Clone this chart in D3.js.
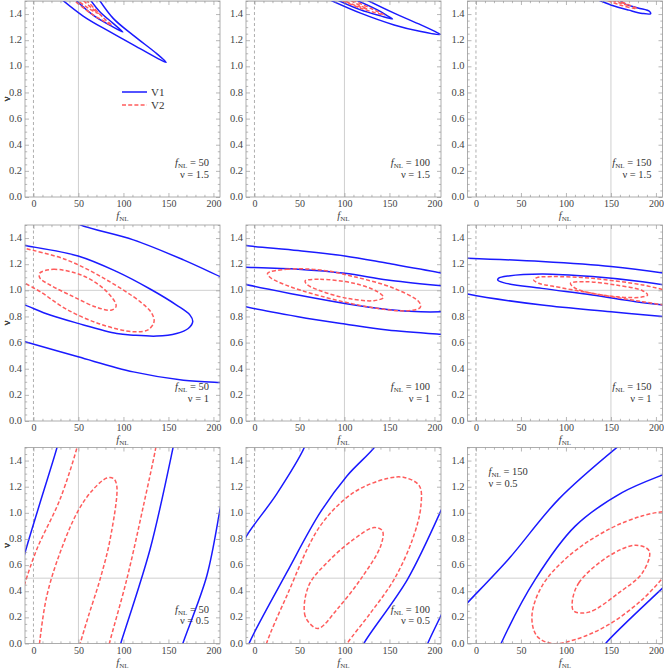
<!DOCTYPE html>
<html><head><meta charset="utf-8">
<script src="https://cdn.jsdelivr.net/npm/d3@7"></script>
<style>body{margin:0;background:#fff} svg{display:block} svg text{font-family:'Liberation Serif','Times New Roman',serif}</style>
</head><body><svg id="c" width="664" height="670"></svg>
<script>
// ---------- data ----------
const fnlValues = [50, 100, 150];           // columns
const nuValues  = [1.5, 1, 0.5];            // rows
const xTickValues = [0, 50, 100, 150, 200];
const yTickValues = [0, 0.2, 0.4, 0.6, 0.8, 1.0, 1.2, 1.4];
const seriesNames = ["V1", "V2"];

// contour points [fNL, nu]
// row 0 : nu = 1.5
const r0c0_V1_a = [[30,1.52],[55.6,1.383],[85.2,1.263],[118.5,1.135],[140.7,1.051],[147.4,1.031],[137,1.097],[111,1.237],[88.9,1.365],[72,1.52]];
const r0c0_V1_b = [[45,1.52],[66.7,1.39],[85.2,1.314],[99.3,1.263],[88.9,1.327],[74,1.416],[62,1.52]];
const r0c0_V2_a = [[42,1.52],[65,1.40],[80,1.34],[87,1.314],[78,1.37],[57,1.52]];
const r0c0_V2_b = [[46,1.52],[62,1.44],[72,1.405],[64,1.45],[53,1.52]];

const r0c1_V1_a = [[80,1.52],[117.9,1.407],[155.2,1.317],[185,1.266],[206.5,1.243],[203,1.258],[185,1.317],[155.2,1.407],[121,1.52]];
const r0c1_V1_b = [[88,1.52],[117.9,1.432],[140.3,1.386],[153.4,1.363],[147.8,1.386],[136.6,1.432],[108.6,1.52]];
const r0c1_V2_a = [[91.8,1.52],[118,1.445],[144,1.394],[136.6,1.42],[104.9,1.52]];
const r0c1_V2_b = [[95.5,1.52],[110.4,1.47],[125.4,1.44],[118,1.463],[103,1.52]];

const r0c2_V1_a = [[132,1.52],[150,1.47],[170,1.43],[185,1.405],[194,1.402],[193,1.42],[180,1.447],[165,1.48],[158,1.52]];
const r0c2_V2_a = [[140,1.52],[160,1.47],[175,1.445],[179,1.442],[170,1.47],[152,1.52]];
const r0c2_V2_b = [[145,1.52],[160,1.485],[168,1.47],[160,1.495],[150,1.52]];

// row 1 : nu = 1
const r1c0_V1_a = [[-14,1.35],[-9.3,1.343],[49.6,1.263],[92.6,1.143],[129.6,1.01],[159,0.887],[174,0.81],[177,0.76],[172,0.708],[159,0.67],[137,0.65],[111,0.657],[92.6,0.67],[49.6,0.747],[18.5,0.811],[-9.3,0.887],[-14,0.897]];
const r1c0_V1_b = [[40,1.55],[51.9,1.501],[111,1.386],[166.7,1.233],[207.4,1.105],[214,1.085]];
const r1c0_V1_c = [[-14,0.615],[-9.3,0.606],[49.6,0.491],[111,0.376],[166.7,0.312],[207.4,0.294],[214,0.292]];
const r1c0_V2_a = [[-14,1.332],[-9.3,1.322],[37,1.233],[81.5,1.079],[118.5,0.913],[131.5,0.824],[134,0.76],[127.8,0.70],[111,0.683],[74,0.742],[37,0.854],[7.4,0.99],[-9.3,1.054],[-14,1.07]];
const r1c0_V2_b = [[6.7,1.13],[22.2,1.161],[55.6,1.11],[81.5,0.99],[91.9,0.88],[87,0.849],[70.4,0.87],[44.4,0.951],[18.5,1.041],[7.4,1.092]];

const r1c1_V1_a = [[-14,1.35],[-9.7,1.343],[48.5,1.304],[100.4,1.263],[147.8,1.207],[209.7,1.13],[214,1.122]];
const r1c1_V1_b = [[-14,1.177],[-9.7,1.176],[48.5,1.161],[100.4,1.13],[147.8,1.079],[209.7,1.033],[214,1.03]];
const r1c1_V1_c = [[-14,1.058],[-9.7,1.046],[48.5,0.964],[100.4,0.9],[147.8,0.854],[185,0.836],[209.7,0.836],[214,0.837]];
const r1c1_V1_d = [[-14,0.885],[-9.7,0.875],[48.5,0.798],[100.4,0.742],[147.8,0.696],[209.7,0.662],[214,0.66]];
const r1c1_V2_a = [[14.6,1.13],[35.8,1.161],[73.1,1.156],[110.4,1.105],[155.2,1.015],[183,0.91],[184.3,0.87],[170.1,0.844],[129.1,0.87],[73.1,0.957],[35.8,1.038],[17.2,1.1]];
const r1c1_V2_b = [[56.3,1.072],[73.1,1.084],[110.4,1.054],[136.6,0.99],[143.3,0.946],[132.8,0.921],[103,0.939],[73.1,0.997],[58.2,1.046]];

const r1c2_V1_a = [[-14,1.247],[-9.3,1.246],[73.4,1.22],[150.1,1.182],[209.7,1.13],[214,1.125]];
const r1c2_V1_b = [[214,1.035],[209.7,1.041],[185.1,1.066],[129.2,1.105],[73.4,1.125],[36.1,1.11],[25,1.092],[24.2,1.079],[30.5,1.059],[73.4,1.015],[129.2,0.964],[177.7,0.913],[209.7,0.887],[214,0.884]];
const r1c2_V1_c = [[-14,0.98],[-9.3,0.972],[73.4,0.887],[150.1,0.836],[209.7,0.798],[214,0.795]];
const r1c2_V2_a = [[214,0.998],[209.7,1.003],[185.1,1.041],[129.2,1.092],[84.5,1.105],[67.8,1.097],[64.1,1.079],[69.6,1.054],[84.5,1.033],[129.2,0.977],[185.1,0.913],[209.7,0.887],[214,0.883]];
const r1c2_V2_b = [[105,1.054],[121.8,1.066],[155.3,1.041],[185.1,0.997],[190.7,0.964],[181.4,0.946],[140.4,0.964],[110.6,1.015]];

// row 2 : nu = 0.5
const r2c0_V1_a = [[-12,0.62],[-9.3,0.696],[7.4,1.079],[26.7,1.514],[28,1.56]];
const r2c0_V2_a = [[-12,0.40],[-9.3,0.465],[3.7,0.721],[29.6,1.105],[48.9,1.514],[50,1.56]];
const r2c0_V2_b = [[6,-0.05],[6.7,0],[14.8,0.363],[29.6,0.696],[49.6,1.015],[66.7,1.182],[81.5,1.266],[88.9,1.263],[92.6,1.207],[85.2,0.798],[74,0.491],[61.1,0.21],[51.9,0],[50,-0.05]];
const r2c0_V2_c = [[83,-0.05],[84.4,0],[103.7,0.491],[122.2,1.054],[136.3,1.514],[137,1.56]];
const r2c0_V1_b = [[95,-0.05],[97,0],[129.6,0.721],[155.6,1.514],[157,1.56]];
const r2c0_V1_c = [[164,-0.05],[166,0],[192.6,0.517],[207.4,1.028],[210,1.12]];

const r2c1_V1_a = [[-12,0.75],[-9.7,0.811],[24.6,1.143],[56.3,1.514],[58,1.56]];
const r2c1_V1_b = [[-8,-0.05],[-6,0],[35.8,0.542],[73.1,1.003],[103,1.284],[134.7,1.514],[137,1.56]];
const r2c1_V2_a = [[12,-0.05],[13.4,0],[35.8,0.363],[73.1,0.9],[110.4,1.156],[147.8,1.263],[166.4,1.271],[183.2,1.207],[185,1.054],[175.7,0.798],[155.2,0.491],[129.1,0.235],[103,0],[99,-0.05]];
const r2c1_V2_b = [[67.5,0.12],[56.3,0.21],[60.1,0.44],[80.6,0.619],[110.4,0.798],[132.8,0.887],[142.2,0.862],[140.3,0.747],[117.9,0.491],[91.8,0.261],[73.1,0.12]];
const r2c1_V1_c = [[119,-0.05],[121.6,0],[170.1,0.491],[209.7,1.054],[212,1.09]];
const r2c1_V1_d = [[190,-0.05],[192.5,0],[209.7,0.248],[212,0.28]];

const r2c2_V1_a = [[-12,0.29],[-9.3,0.312],[36.1,0.645],[92,1.105],[159,1.514],[162,1.53]];
const r2c2_V1_b = [[25,-0.05],[27.9,0],[65.9,0.491],[110.6,0.9],[162.8,1.156],[209.7,1.297],[214,1.31]];
const r2c2_V1_c = [[140,-0.05],[144.1,0],[209.7,0.44],[214,0.47]];
const r2c2_V2_a = [[214,1.0],[209.7,1.008],[185.1,0.977],[147.9,0.875],[103.2,0.67],[73.4,0.44],[62.2,0.21],[67.8,0.056],[84.5,0.0],[110.6,0.031],[147.9,0.146],[185.1,0.338],[209.7,0.517],[214,0.55]];
const r2c2_V2_b = [[106.9,0.312],[114.4,0.465],[147.9,0.67],[177.7,0.752],[192.6,0.708],[185.1,0.542],[159,0.389],[125.5,0.24],[108.8,0.248]];

// which contours belong to which panel (row, col), series, closed or open
const contourList = [
  [0,0,"V1",false,r0c0_V1_a],[0,0,"V1",false,r0c0_V1_b],[0,0,"V2",false,r0c0_V2_a],[0,0,"V2",false,r0c0_V2_b],
  [0,1,"V1",false,r0c1_V1_a],[0,1,"V1",false,r0c1_V1_b],[0,1,"V2",false,r0c1_V2_a],[0,1,"V2",false,r0c1_V2_b],
  [0,2,"V1",false,r0c2_V1_a],[0,2,"V2",false,r0c2_V2_a],[0,2,"V2",false,r0c2_V2_b],
  [1,0,"V1",false,r1c0_V1_a],[1,0,"V1",false,r1c0_V1_b],[1,0,"V1",false,r1c0_V1_c],[1,0,"V2",false,r1c0_V2_a],[1,0,"V2",true,r1c0_V2_b],
  [1,1,"V1",false,r1c1_V1_a],[1,1,"V1",false,r1c1_V1_b],[1,1,"V1",false,r1c1_V1_c],[1,1,"V1",false,r1c1_V1_d],[1,1,"V2",true,r1c1_V2_a],[1,1,"V2",true,r1c1_V2_b],
  [1,2,"V1",false,r1c2_V1_a],[1,2,"V1",false,r1c2_V1_b],[1,2,"V1",false,r1c2_V1_c],[1,2,"V2",false,r1c2_V2_a],[1,2,"V2",true,r1c2_V2_b],
  [2,0,"V1",false,r2c0_V1_a],[2,0,"V2",false,r2c0_V2_a],[2,0,"V2",false,r2c0_V2_b],[2,0,"V2",false,r2c0_V2_c],[2,0,"V1",false,r2c0_V1_b],[2,0,"V1",false,r2c0_V1_c],
  [2,1,"V1",false,r2c1_V1_a],[2,1,"V1",false,r2c1_V1_b],[2,1,"V2",false,r2c1_V2_a],[2,1,"V2",true,r2c1_V2_b],[2,1,"V1",false,r2c1_V1_c],[2,1,"V1",false,r2c1_V1_d],
  [2,2,"V1",false,r2c2_V1_a],[2,2,"V1",false,r2c2_V1_b],[2,2,"V1",false,r2c2_V1_c],[2,2,"V2",false,r2c2_V2_a],[2,2,"V2",true,r2c2_V2_b]
];

// ---------- layout ----------
const colLeft = [25, 246, 467.5];
const rowTop  = [1, 225, 447.5];
const PW = 195, PH = 196;
const xDomain = [-9.4, 207.3], yDomain = [0, 1.5];
const style = {
  V1: {stroke: "#1a1aff", width: 1.5, dash: null},
  V2: {stroke: "#ff5c5c", width: 1.5, dash: "4,2.2"}
};
const frameColor = "#9a9a9a", labelColor = "#444";

const svg = d3.select("#c");
const defs = svg.append("defs");

function fnlLabel(sel, rest) {
  sel.append("tspan").attr("font-style", "italic").text("f");
  sel.append("tspan").attr("font-size", 7).attr("dy", 2).text("NL");
  if (rest) sel.append("tspan").attr("dy", -2).text(rest);
}

for (let r = 0; r < 3; r++) {
  for (let c = 0; c < 3; c++) {
    const L = colLeft[c], T = rowTop[r];
    const x = d3.scaleLinear().domain(xDomain).range([0, PW]);
    const y = d3.scaleLinear().domain(yDomain).range([PH, 0]);
    const g = svg.append("g").attr("transform", `translate(${L},${T})`);
    const cid = `clip${r}${c}`;
    defs.append("clipPath").attr("id", cid).append("rect").attr("width", PW).attr("height", PH);
    const inner = g.append("g").attr("clip-path", `url(#${cid})`);

    // reference lines
    inner.append("line").attr("x1", x(0)).attr("x2", x(0)).attr("y1", 0).attr("y2", PH)
      .attr("stroke", "#9a9a9a").attr("stroke-width", 0.8).attr("stroke-dasharray", "3,2.5");
    inner.append("line").attr("x1", x(fnlValues[c])).attr("x2", x(fnlValues[c])).attr("y1", 0).attr("y2", PH)
      .attr("stroke", "#c4c4c4").attr("stroke-width", 0.8);
    inner.append("line").attr("x1", 0).attr("x2", PW).attr("y1", y(nuValues[r])).attr("y2", y(nuValues[r]))
      .attr("stroke", "#c4c4c4").attr("stroke-width", 0.8);

    // contours
    contourList.filter(d => d[0] === r && d[1] === c).forEach(d => {
      const s = style[d[2]];
      const line = d3.line().x(p => x(p[0])).y(p => y(p[1]))
        .curve(d[3] ? d3.curveCatmullRomClosed.alpha(0.5) : d3.curveCatmullRom.alpha(0.5));
      inner.append("path").attr("d", line(d[4])).attr("fill", "none")
        .attr("stroke", s.stroke).attr("stroke-width", s.width)
        .attr("stroke-dasharray", s.dash);
    });

    // frame & ticks
    const xMinor = d3.range(-0, 210, 10).filter(v => v % 50 !== 0);
    const yMinor = d3.range(0, 1.5001, 0.05).filter(v => Math.abs(v * 5 - Math.round(v * 5)) > 1e-6);
    const axStyle = a => { a.select(".domain").remove(); a.attr("font-family", null); a.selectAll("line").attr("stroke", frameColor).attr("stroke-width", 0.7); };
    // bottom
    g.append("g").attr("transform", `translate(0,${PH})`)
      .call(d3.axisBottom(x).tickValues(xTickValues).tickSize(-4).tickPadding(3).tickFormat(d3.format("d")))
      .call(axStyle)
      .call(a => a.selectAll("text").attr("fill", labelColor).attr("font-size", 10));
    g.append("g").attr("transform", `translate(0,${PH})`)
      .call(d3.axisBottom(x).tickValues(xMinor).tickSize(-2.2).tickFormat("")).call(axStyle);
    // top
    g.append("g").call(d3.axisTop(x).tickValues(xTickValues).tickSize(-4).tickFormat("")).call(axStyle);
    g.append("g").call(d3.axisTop(x).tickValues(xMinor).tickSize(-2.2).tickFormat("")).call(axStyle);
    // left
    g.append("g")
      .call(d3.axisLeft(y).tickValues(yTickValues).tickSize(-4).tickPadding(3).tickFormat(d3.format(".1f")))
      .call(axStyle)
      .call(a => a.selectAll("text").attr("fill", labelColor).attr("font-size", 10.5).attr("dy", "0.25em"));
    g.append("g").call(d3.axisLeft(y).tickValues(yMinor).tickSize(-2.2).tickFormat("")).call(axStyle);
    // right
    g.append("g").attr("transform", `translate(${PW},0)`)
      .call(d3.axisRight(y).tickValues(yTickValues).tickSize(-4).tickFormat("")).call(axStyle);
    g.append("g").attr("transform", `translate(${PW},0)`)
      .call(d3.axisRight(y).tickValues(yMinor).tickSize(-2.2).tickFormat("")).call(axStyle);

    g.append("rect").attr("width", PW).attr("height", PH).attr("fill", "none")
      .attr("stroke", frameColor).attr("stroke-width", 0.8);

    // axis labels
    g.append("text").attr("x", PW / 2).attr("y", PH + 22).attr("text-anchor", "middle")
      .attr("font-size", 10.5).attr("fill", labelColor).call(fnlLabel);
    g.append("text").attr("transform", `translate(${-L + 10},${PH / 2}) rotate(-90)`)
      .attr("text-anchor", "middle").attr("font-size", 11)
      .attr("fill", labelColor).text("ν");

    // annotation
    const topLeft = (r === 2 && c === 2);
    const ax = topLeft ? 21 : PW - 11;
    const anchor = topLeft ? "start" : "end";
    const ay1 = topLeft ? 27.5 : PH - 31;
    g.append("text").attr("x", ax).attr("y", ay1).attr("text-anchor", anchor)
      .attr("font-size", 10.5).attr("fill", "#333")
      .call(s => fnlLabel(s, " = " + fnlValues[c]));
    g.append("text").attr("x", ax).attr("y", ay1 + 11.5).attr("text-anchor", anchor)
      .attr("font-size", 10.5).attr("fill", "#333")
      .text("ν = " + nuValues[r]);

    // legend in first panel
    if (r === 0 && c === 0) {
      seriesNames.forEach((n, i) => {
        const ly = 91 + i * 13;
        g.append("line").attr("x1", 97).attr("x2", 122).attr("y1", ly).attr("y2", ly)
          .attr("stroke", style[n].stroke).attr("stroke-width", style[n].width)
          .attr("stroke-dasharray", style[n].dash);
        g.append("text").attr("x", 126).attr("y", ly + 3.8)
          .attr("font-size", 11).attr("fill", "#333").text(n);
      });
    }
  }
}
</script></body></html>
